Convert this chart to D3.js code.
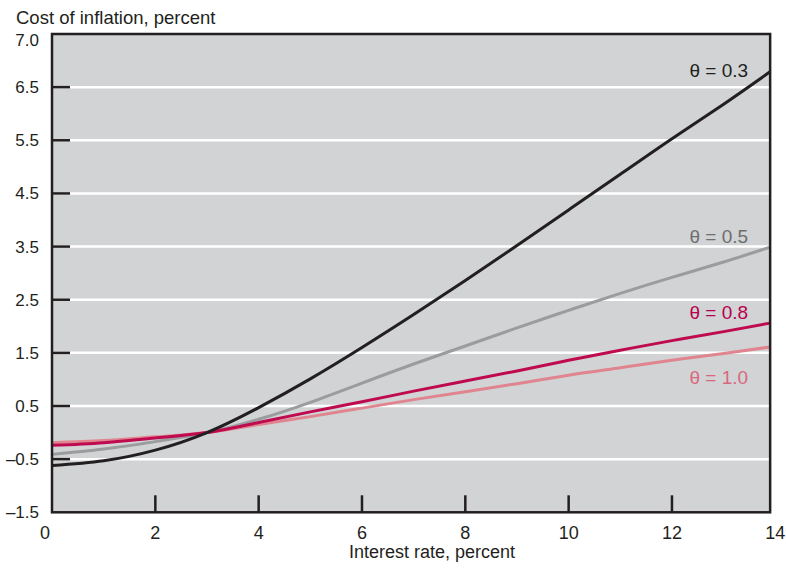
<!DOCTYPE html>
<html>
<head>
<meta charset="utf-8">
<script src="https://cdn.jsdelivr.net/npm/d3@7"></script>
<style>
  html, body { margin: 0; padding: 0; background: #ffffff; }
  svg { display: block; font-family: "Liberation Sans", Arial, Helvetica, sans-serif; }
</style>
</head>
<body>
<svg id="chart" width="786" height="568"></svg>
<script>
// ---- Data ----
const interestRate = [0, 1, 2, 3, 4, 5, 6, 7, 8, 9, 10, 11, 12, 13, 13.9];
const theta03 = [-0.62, -0.53, -0.33, 0.0, 0.47, 1.01, 1.60, 2.22, 2.86, 3.52, 4.19, 4.86, 5.53, 6.18, 6.79];
const theta05 = [-0.41, -0.31, -0.17, 0.0, 0.25, 0.57, 0.93, 1.29, 1.63, 1.97, 2.30, 2.62, 2.92, 3.21, 3.49];
const theta08 = [-0.24, -0.19, -0.10, 0.0, 0.19, 0.39, 0.58, 0.78, 0.97, 1.16, 1.36, 1.55, 1.73, 1.90, 2.06];
const theta10 = [-0.19, -0.15, -0.08, 0.0, 0.15, 0.30, 0.46, 0.62, 0.77, 0.92, 1.08, 1.22, 1.36, 1.49, 1.61];
const seriesNames = ["θ = 1.0", "θ = 0.5", "θ = 0.8", "θ = 0.3"];
const yTickValues = [-1.5, -0.5, 0.5, 1.5, 2.5, 3.5, 4.5, 5.5, 6.5, 7.5];
const yTickLabels = ["\u20131.5", "\u20130.5", "0.5", "1.5", "2.5", "3.5", "4.5", "5.5", "6.5", "7.0"];
const xTickValues = [0, 2, 4, 6, 8, 10, 12, 14];
const xTitle = "Interest rate, percent";
const yTitle = "Cost of inflation, percent";

// ---- Styles ----
const series = [
  { name: seriesNames[0], values: theta10, color: "#e0848f", labelColor: "#d9687e", width: 3, dy: 37 },
  { name: seriesNames[1], values: theta05, color: "#9b9c9e", labelColor: "#6d6e71", width: 3, dy: -4 },
  { name: seriesNames[2], values: theta08, color: "#bf0a50", labelColor: "#b8004f", width: 3, dy: -4 },
  { name: seriesNames[3], values: theta03, color: "#231f20", labelColor: "#231f20", width: 3, dy: 5 }
];
const ink = "#231f20";

const svg = d3.select("#chart");
const x = d3.scaleLinear().domain([0, 14]).range([52, 775.3]);
const y = d3.scaleLinear().domain([-1.5, 7.5]).range([512.3, 34]);
const xEnd = interestRate[interestRate.length - 1];

// plot background
svg.append("rect")
  .attr("x", x(0)).attr("y", y(7.5))
  .attr("width", x(xEnd) - x(0)).attr("height", y(-1.5) - y(7.5))
  .attr("fill", "#d1d3d4");

// gridlines (white) and inner y ticks (dark)
const inner = yTickValues.slice(1, -1);
svg.append("g").selectAll("line").data(inner).join("line")
  .attr("x1", x(0)).attr("x2", x(xEnd))
  .attr("y1", d => y(d)).attr("y2", d => y(d))
  .attr("stroke", "#ffffff").attr("stroke-width", 2.5);
svg.append("g").selectAll("line").data(inner).join("line")
  .attr("x1", x(0)).attr("x2", x(0) + 18)
  .attr("y1", d => y(d)).attr("y2", d => y(d))
  .attr("stroke", ink).attr("stroke-width", 2.5);

// x inner ticks
svg.append("g").selectAll("line").data(xTickValues.slice(1, -1)).join("line")
  .attr("x1", d => x(d)).attr("x2", d => x(d))
  .attr("y1", y(-1.5)).attr("y2", y(-1.5) - 17)
  .attr("stroke", ink).attr("stroke-width", 2.5);

// lines
const line = d3.line()
  .x((d, i) => x(interestRate[i]))
  .y(d => y(d))
  .curve(d3.curveNatural);
svg.append("g").selectAll("path").data(series).join("path")
  .attr("d", s => line(s.values))
  .attr("fill", "none")
  .attr("stroke", s => s.color)
  .attr("stroke-width", s => s.width)
  .attr("stroke-linejoin", "round");

// frame
svg.append("rect")
  .attr("x", x(0)).attr("y", y(7.5))
  .attr("width", x(xEnd) - x(0)).attr("height", y(-1.5) - y(7.5))
  .attr("fill", "none").attr("stroke", ink).attr("stroke-width", 2.5);

// series labels
svg.append("g").selectAll("text").data(series).join("text")
  .attr("x", x(xEnd) - 22)
  .attr("y", s => y(s.values[s.values.length - 1]) + s.dy)
  .attr("text-anchor", "end")
  .attr("font-size", 19)
  .attr("fill", s => s.labelColor)
  .text(s => s.name);

// y tick labels
svg.append("g").selectAll("text").data(yTickValues).join("text")
  .attr("x", 39)
  .attr("y", (d, i) => y(d) + (i === yTickValues.length - 1 ? 6 : 0))
  .attr("dy", "0.35em")
  .attr("text-anchor", "end")
  .attr("font-size", 17)
  .attr("fill", ink)
  .text((d, i) => yTickLabels[i]);

// x tick labels
svg.append("g").selectAll("text").data(xTickValues).join("text")
  .attr("x", (d, i) => x(d) - (i === 0 ? 7 : 0))
  .attr("y", 539)
  .attr("text-anchor", "middle")
  .attr("font-size", 18)
  .attr("fill", ink)
  .text(d => d);

// titles
svg.append("text")
  .attr("x", 432).attr("y", 558)
  .attr("text-anchor", "middle")
  .attr("font-size", 18)
  .attr("fill", ink)
  .text(xTitle);
svg.append("text")
  .attr("x", 16).attr("y", 24)
  .attr("font-size", 18.5)
  .attr("fill", ink)
  .text(yTitle);
</script>
</body>
</html>
